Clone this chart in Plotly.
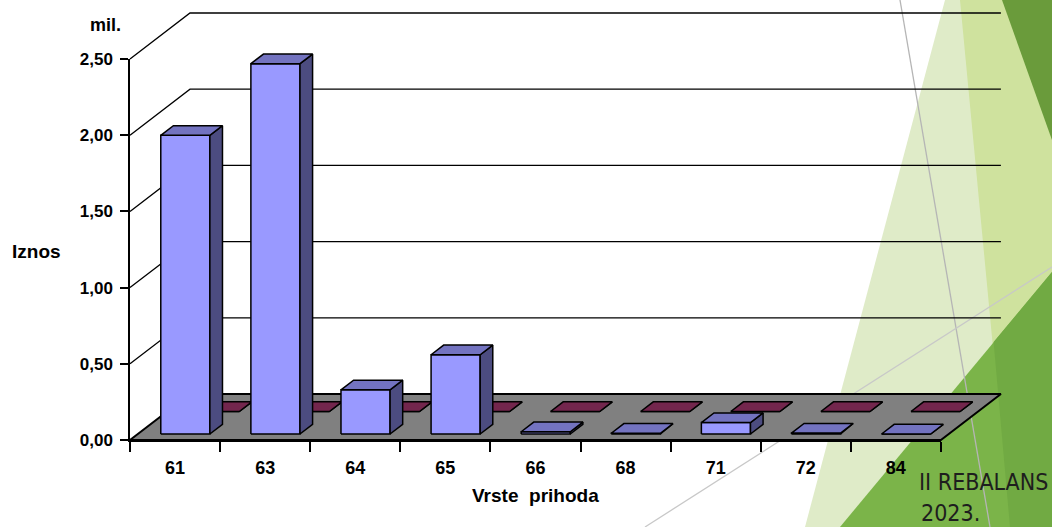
import plotly.graph_objects as go

# ---------------- data ----------------
categories = ["61", "63", "64", "65", "66", "68", "71", "72", "84"]
front_values = [1.96, 2.43, 0.29, 0.52, 0.015, 0.005, 0.075, 0.006, 0.0]
back_values = [0.0, 0.0, 0.0, 0.0, 0.0, 0.0, 0.0, 0.0, 0.0]
y_tick_vals = [0.0, 0.5, 1.0, 1.5, 2.0, 2.5]
y_tick_text = ["0,00", "0,50", "1,00", "1,50", "2,00", "2,50"]

# ---------------- geometry / style ----------------
W, H = 1052, 527
X0, PXU = 130.0, 90.1      # pixel of category axis start, pixels per category
Y0, PYU = 440.0, 152.4     # pixel of value 0, pixels per value unit
DX = 60.0 / PXU            # depth offset (category units)
DY = 46.0 / PYU            # depth offset (value units)
L, R, T, B = 120.0, 1012.0, 5.0, 452.0   # main plot area in pixels
NCAT = len(categories)
YTOP = y_tick_vals[-1]

BAR_A, BAR_B = 0.255, 0.80
FRONT_ROW = (0.13, 0.34)
BACK_ROW = (0.62, 0.83)

FONT = "Liberation Sans, Arial, sans-serif"
DECO_FONT = "Liberation Sans Narrow, DejaVu Sans Condensed, sans-serif"


def P(c, v, d):
    return c + d * DX, v + d * DY


def px2paper_x(px):
    return (px - L) / (R - L)


def px2paper_y(py):
    return (B - py) / (B - T)


def boxes(values, row):
    d0, d1 = row
    front_x, front_y, side_x, side_y, top_x, top_y = [], [], [], [], [], []
    for i, v in enumerate(values):
        c0, c1 = i + BAR_A, i + BAR_B
        for pts, xs, ys in (
            ([(c0, 0, d0), (c1, 0, d0), (c1, v, d0), (c0, v, d0)], front_x, front_y),
            ([(c1, 0, d0), (c1, 0, d1), (c1, v, d1), (c1, v, d0)], side_x, side_y),
            ([(c0, v, d0), (c1, v, d0), (c1, v, d1), (c0, v, d1)], top_x, top_y),
        ):
            for p in pts + [pts[0]]:
                x, y = P(*p)
                xs.append(x)
                ys.append(y)
            xs.append(None)
            ys.append(None)
    return (front_x, front_y), (side_x, side_y), (top_x, top_y)


def poly(xy, color, width=1.5):
    return go.Scatter(x=xy[0], y=xy[1], mode="lines", fill="toself", fillcolor=color,
                      line=dict(color="black", width=width), hoverinfo="skip",
                      showlegend=False)


fig = go.Figure()

# back wall gridlines (with left-wall diagonals)
gx, gy = [], []
for t in y_tick_vals[1:]:
    for p in [(0, t, 0), (0, t, 1), (NCAT, t, 1)]:
        x, y = P(*p)
        gx.append(x)
        gy.append(y)
    gx.append(None)
    gy.append(None)
fig.add_trace(go.Scatter(x=gx, y=gy, mode="lines", line=dict(color="black", width=1.3),
                         hoverinfo="skip", showlegend=False))

# floor
fx, fy = [], []
for p in [(0, 0, 0), (NCAT, 0, 0), (NCAT, 0, 1), (0, 0, 1), (0, 0, 0)]:
    x, y = P(*p)
    fx.append(x)
    fy.append(y)
fig.add_trace(poly((fx, fy), "#808080", 2))

# back series (plum)
bf, bs, bt = boxes(back_values, BACK_ROW)
fig.add_trace(poly(bf, "#993366"))
fig.add_trace(poly(bs, "#4D1A33"))
fig.add_trace(poly(bt, "#73264D"))

# front series (periwinkle)
ff, fs, ft = boxes(front_values, FRONT_ROW)
fig.add_trace(poly(ff, "#9999FF"))
fig.add_trace(poly(fs, "#4C4C80"))
fig.add_trace(poly(ft, "#7373C0"))

# dummy trace for front axis subplot
fig.add_trace(go.Scatter(x=[0], y=[0], mode="markers", marker=dict(opacity=0),
                         hoverinfo="skip", showlegend=False, xaxis="x2", yaxis="y2"))

# ---------------- decorative background ----------------
def path(points):
    s = "M " + " L ".join(f"{px2paper_x(x):.5f},{px2paper_y(y):.5f}" for x, y in points)
    return s + " Z"

deco = [
    ([(945, 0), (1052, 0), (1052, 527), (805, 527)], "#DFEBC8"),
    ([(960, 0), (1052, 0), (1052, 527), (1010, 527)], "#CFE29E"),
    ([(1052, 272), (840, 527), (1052, 527)], "#7BB449"),
    ([(993.6, 342), (1052, 272), (1052, 527), (1010, 527)], "#71AA43"),
    ([(1002, 0), (1052, 0), (1052, 140)], "#6A9B3B"),
]
shapes = []
for pts, col in deco:
    shapes.append(dict(type="path", xref="paper", yref="paper", path=path(pts),
                       fillcolor=col, line=dict(width=0), layer="below"))
for (x0, y0), (x1, y1), col in [((900, 0), (990, 527), "#B5B5B5"),
                                 ((645, 527), (1052, 267), "#C8C8C8")]:
    shapes.append(dict(type="line", xref="paper", yref="paper",
                       x0=px2paper_x(x0), y0=px2paper_y(y0), x1=px2paper_x(x1), y1=px2paper_y(y1),
                       line=dict(color=col, width=1.3), layer="below"))


def ann(text, px, py, size, family=FONT, weight="bold", xanchor="center", color="black"):
    return dict(text=text, x=px2paper_x(px), y=px2paper_y(py), xref="paper", yref="paper",
                xanchor=xanchor, yanchor="middle", showarrow=False,
                font=dict(family=family, size=size, color=color, weight=weight))


annotations = [
    ann("mil.", 105, 25, 18),
    ann("Iznos", 36, 251, 19),
    ann("Vrste  prihoda", 535, 496, 19),
    ann("II REBALANS", 917, 482, 23, family=DECO_FONT, weight="normal", xanchor="left", color="#1E1E1E"),
    ann("2023.", 919, 513, 23, family=DECO_FONT, weight="normal", xanchor="left", color="#1E1E1E"),
]

ytickfont = dict(family=FONT, size=17, color="black", weight="bold")
xtickfont = dict(family=FONT, size=18, color="black", weight="bold")

fig.update_layout(
    template="none",
    width=W, height=H, autosize=False,
    margin=dict(l=L, r=W - R, t=T, b=H - B, pad=0, autoexpand=False),
    paper_bgcolor="white", plot_bgcolor="rgba(0,0,0,0)",
    showlegend=False, hovermode=False,
    shapes=shapes, annotations=annotations,
    xaxis=dict(range=[(L - X0) / PXU, (R - X0) / PXU], visible=False, fixedrange=True,
               automargin=False),
    yaxis=dict(range=[(Y0 - B) / PYU, (Y0 - T) / PYU], visible=False, fixedrange=True,
               automargin=False),
    xaxis2=dict(domain=[px2paper_x(X0), px2paper_x(X0 + NCAT * PXU)], anchor="y2",
                range=[0, NCAT], showgrid=False, zeroline=False, automargin=False,
                showline=True, linecolor="black", linewidth=1.5,
                tickmode="array", tickvals=[i + 0.5 for i in range(NCAT)], ticktext=categories,
                ticks="", ticklabelstandoff=11, tickfont=xtickfont,
                minor=dict(tickmode="linear", tick0=0, dtick=1, ticks="outside", ticklen=10,
                           tickwidth=1.5, tickcolor="black"),
                fixedrange=True),
    yaxis2=dict(domain=[px2paper_y(Y0), px2paper_y(Y0 - YTOP * PYU)], anchor="x2",
                range=[0, YTOP], showgrid=False, zeroline=False, automargin=False,
                showline=True, linecolor="black", linewidth=1.5,
                tickmode="array", tickvals=y_tick_vals, ticktext=y_tick_text,
                ticks="outside", ticklen=8, tickwidth=1.5, tickcolor="black",
                ticklabelstandoff=4, tickfont=ytickfont, fixedrange=True),
)

fig.write_html("out.html", config={"displayModeBar": False, "responsive": False},
               post_script="document.body.style.margin='0';document.documentElement.style.overflow='hidden';")
